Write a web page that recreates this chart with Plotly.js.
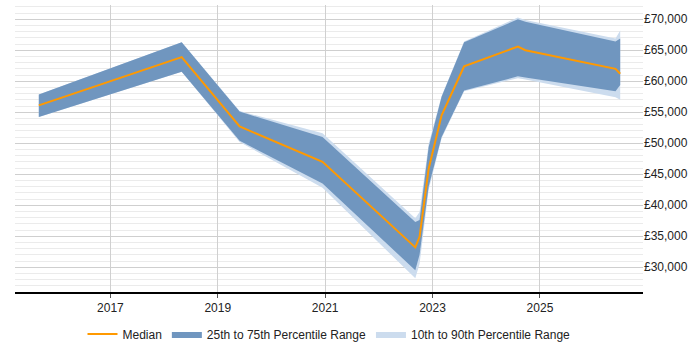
<!DOCTYPE html>
<html>
<head>
<meta charset="utf-8">
<script src="https://cdn.plot.ly/plotly-3.0.1.min.js"></script>
<style>html,body{margin:0;padding:0;background:#fff;}#chart{width:700px;height:350px;}</style>
</head>
<body>
<div id="chart"></div>
<script>
const dates = ['2015-09-02','2018-05-01','2019-05-30','2020-12-14','2022-09-06','2022-10-05','2022-12-06','2023-03-04','2023-08-04','2024-08-04','2024-09-24','2026-05-30','2026-07-01'];
const median = [56100, 63900, 52700, 47000, 33200, 34900, 45900, 54500, 62400, 65600, 65000, 62000, 61200];
const p75    = [57850, 66300, 55100, 51000, 37300, 37600, 49400, 57500, 66300, 70000, 69600, 66400, 66900];
const p25    = [54250, 61550, 50400, 43500, 29500, 32000, 43000, 51000, 58500, 60800, 60600, 58400, 59400];
const p90    = [57850, 66300, 55200, 51600, 37900, 38900, 49900, 57600, 66400, 70300, 69900, 66900, 68200];
const p10    = [54250, 61550, 50200, 42800, 28200, 30500, 42500, 50800, 58400, 60500, 60300, 57400, 57000];

const lightFill = '#ccdcee';
const darkFill = '#7096bf';
const orange = '#ff9900';

const traces = [
  {x: dates, y: p90, type: 'scatter', mode: 'lines', line: {width: 0, color: lightFill}, showlegend: false, hoverinfo: 'skip'},
  {x: dates, y: p10, type: 'scatter', mode: 'lines', line: {width: 0, color: lightFill}, fill: 'tonexty', fillcolor: lightFill, name: '10th to 90th Percentile Range', hoverinfo: 'skip'},
  {x: dates, y: p75, type: 'scatter', mode: 'lines', line: {width: 0, color: darkFill}, showlegend: false, hoverinfo: 'skip'},
  {x: dates, y: p25, type: 'scatter', mode: 'lines', line: {width: 0, color: darkFill}, fill: 'tonexty', fillcolor: darkFill, name: '25th to 75th Percentile Range', hoverinfo: 'skip'},
  {x: dates, y: median, type: 'scatter', mode: 'lines', line: {width: 2, color: orange}, name: 'Median'}
];

const layout = {
  width: 700, height: 350,
  margin: {l: 15, r: 57, t: 5, b: 58, autoexpand: false},
  paper_bgcolor: '#fff', plot_bgcolor: '#fff',
  font: {family: 'Liberation Sans, Arial, sans-serif', size: 12, color: '#222'},
  showlegend: true,
  legend: {orientation: 'h', traceorder: 'reversed', x: 0.5, xanchor: 'center', y: -0.146, yanchor: 'middle', font: {size: 12, color: '#222'}, itemwidth: 30},
  xaxis: {
    type: 'date',
    range: ['2015-03-24', '2026-12-03'],
    tick0: '2017-01-01', dtick: 'M24', tickformat: '%Y',
    showgrid: true, gridcolor: '#d0d0d0', gridwidth: 1,
    showline: true, linecolor: '#000', linewidth: 1.5,
    ticks: 'outside', ticklen: 4, tickcolor: '#555',
    zeroline: false, fixedrange: true, automargin: false
  },
  yaxis: {
    side: 'right',
    range: [26000, 72300],
    dtick: 5000, tick0: 0,
    tickprefix: '£', tickformat: ',d',
    showgrid: true, gridcolor: '#cfcfcf', gridwidth: 1,
    minor: {dtick: 1000, showgrid: true, gridcolor: '#ebebeb', gridwidth: 1},
    showline: false, zeroline: false, ticks: '', fixedrange: true, automargin: false
  }
};

Plotly.newPlot('chart', traces, layout, {displayModeBar: false, staticPlot: true});
</script>
</body>
</html>
